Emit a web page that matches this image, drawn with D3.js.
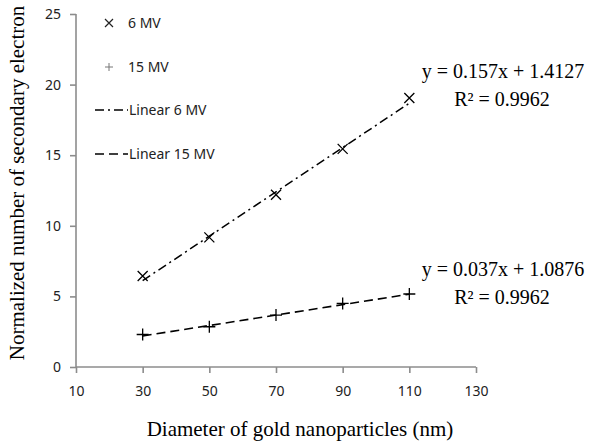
<!DOCTYPE html>
<html><head><meta charset="utf-8">
<script src="https://cdn.jsdelivr.net/npm/d3@7"></script>
<style>body{margin:0;background:#fff}svg{display:block}</style>
</head><body>
<svg id="c" width="593" height="444"></svg>
<script>
const diameters = [30, 50, 70, 90, 110];
const mv6 = [6.45, 9.18, 12.2, 15.45, 19.05];
const mv15 = [2.3, 2.85, 3.68, 4.5, 5.17];
const xTicks = [10, 30, 50, 70, 90, 110, 130];
const yTicks = [0, 5, 10, 15, 20, 25];
const fit6 = {slope: 0.157, intercept: 1.4127, eq: "y = 0.157x + 1.4127", r2: "R² = 0.9962"};
const fit15 = {slope: 0.037, intercept: 1.0876, eq: "y = 0.037x + 1.0876", r2: "R² = 0.9962"};
const legendLabels = ["6 MV", "15 MV", "Linear 6 MV", "Linear 15 MV"];

const svg = d3.select("#c");
const x = d3.scaleLinear().domain([10, 130]).range([76, 476]);
const y = d3.scaleLinear().domain([0, 25]).range([367, 14]);
const axisColor = "#8c8c8c";
const sans = "'Noto Sans', 'Open Sans', sans-serif";
const serif = "'Liberation Serif', 'DejaVu Serif', serif";

// axes
const xa = svg.append("g").attr("transform", `translate(0,${y(0)})`)
  .call(d3.axisBottom(x).tickValues(xTicks).tickSize(6).tickPadding(13));
const ya = svg.append("g").attr("transform", `translate(${x(10)},0)`)
  .call(d3.axisLeft(y).tickValues(yTicks).tickSize(6).tickPadding(9));
[xa, ya].forEach(a => {
  a.selectAll("path,line").attr("stroke", axisColor).attr("stroke-width", 1.6);
  a.selectAll("text").attr("fill", "#222").style("font-family", sans).style("font-size", "14px");
});
xa.select(".domain").attr("d", `M${x(10)},0H${x(130)}`);
ya.select(".domain").attr("d", `M0,${y(0)}V${y(25)}`);

// trend lines
const line = d3.line().x(d => x(d[0])).y(d => y(d[1]));
function trend(f) { return [30, 110].map(v => [v, f.slope * v + f.intercept]); }
svg.append("path").attr("d", line(trend(fit6))).attr("fill", "none")
  .attr("stroke", "#000").attr("stroke-width", 1.5).attr("stroke-dasharray", "9,4,2,4");
svg.append("path").attr("d", line(trend(fit15))).attr("fill", "none")
  .attr("stroke", "#000").attr("stroke-width", 1.6).attr("stroke-dasharray", "9,5");

// markers
const s = 5;
svg.append("g").selectAll("path").data(diameters.map((d, i) => [d, mv6[i]])).join("path")
  .attr("d", d => `M${x(d[0]) - s},${y(d[1]) - s}L${x(d[0]) + s},${y(d[1]) + s}M${x(d[0]) - s},${y(d[1]) + s}L${x(d[0]) + s},${y(d[1]) - s}`)
  .attr("stroke", "#000").attr("stroke-width", 1.3);
const p = 6;
svg.append("g").selectAll("path").data(diameters.map((d, i) => [d, mv15[i]])).join("path")
  .attr("d", d => `M${x(d[0]) - p},${y(d[1])}H${x(d[0]) + p}M${x(d[0])},${y(d[1]) - p}V${y(d[1]) + p}`)
  .attr("stroke", "#000").attr("stroke-width", 1.3);

// legend
const lg = svg.append("g").style("font-family", sans).style("font-size", "14px");
lg.append("path").attr("d", "M105,19L113,27M105,27L113,19").attr("stroke", "#222").attr("stroke-width", 1.2);
lg.append("path").attr("d", "M105,67H113M109,63V71").attr("stroke", "#777").attr("stroke-width", 1);
lg.append("path").attr("d", "M95,110H128").attr("stroke", "#000").attr("stroke-width", 1.6).attr("stroke-dasharray", "9,4,2,4");
lg.append("path").attr("d", "M95,154H128").attr("stroke", "#000").attr("stroke-width", 1.6).attr("stroke-dasharray", "9,5");
const lgPos = [[128, 23], [128, 67], [129, 110], [129, 154]];
lg.selectAll("text").data(legendLabels).join("text")
  .attr("x", (d, i) => lgPos[i][0]).attr("y", (d, i) => lgPos[i][1]).attr("dy", "0.35em")
  .attr("fill", "#222").text(d => d);

// equations
const eq = svg.append("g").style("font-family", serif).style("font-size", "20px").attr("text-anchor", "middle").attr("fill", "#000");
eq.append("text").attr("x", 503).attr("y", 78).text(fit6.eq);
eq.append("text").attr("x", 502).attr("y", 106).text(fit6.r2);
eq.append("text").attr("x", 503).attr("y", 276).text(fit15.eq);
eq.append("text").attr("x", 502).attr("y", 304).text(fit15.r2);

// axis titles
svg.append("text").attr("x", 300).attr("y", 436).attr("text-anchor", "middle")
  .style("font-family", serif).style("font-size", "21px").text("Diameter of gold nanoparticles (nm)");
svg.append("text").attr("transform", "translate(24,183) rotate(-90)").attr("text-anchor", "middle")
  .style("font-family", serif).style("font-size", "21px").text("Normalized number of secondary electron");
</script>
</body></html>
